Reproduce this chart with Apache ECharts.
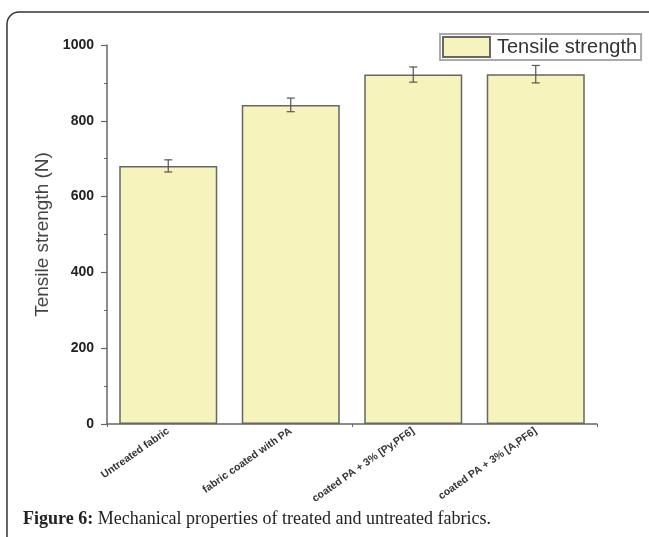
<!DOCTYPE html>
<html>
<head>
<meta charset="utf-8">
<script src="https://cdn.jsdelivr.net/npm/echarts@6/dist/echarts.min.js"></script>
<style>html,body{margin:0;padding:0;background:#fff;}#c{width:649px;height:537px;}</style>
</head>
<body>
<div id="c"></div>
<script>
var categories = ['Untreated fabric', 'fabric coated with PA', 'coated PA + 3% [Py,PF6]', 'coated PA + 3% [A,PF6]'];
var strengthValues = [681, 842, 922, 923];
var strengthErrors = [16, 18, 20, 23];
var yTicks = [0, 200, 400, 600, 800, 1000];
var seriesName = 'Tensile strength';
var yTitle = 'Tensile strength (N)';
var captionBold = 'Figure 6:';
var captionText = ' Mechanical properties of treated and untreated fabrics.';

var chart = echarts.init(document.getElementById('c'), null, {renderer: 'canvas'});
var errData = categories.map(function (c, i) {
  return [i, strengthValues[i] - strengthErrors[i], strengthValues[i] + strengthErrors[i]];
});
var FONT = 'Liberation Sans, Arial, sans-serif';
var option = {
  backgroundColor: '#fff',
  animation: false,
  grid: {left: 107, right: 52, top: 45, bottom: 113},
  legend: {
    data: [seriesName],
    left: 440, top: 34,
    orient: 'horizontal',
    itemWidth: 47, itemHeight: 20,
    borderColor: '#aaa', borderWidth: 2,
    padding: [2, 4, 2, 2],
    icon: 'rect',
    textStyle: {fontSize: 20, color: '#333', fontFamily: FONT, padding: [0, 0, 0, 2]}
  },
  xAxis: [{
    type: 'category',
    data: categories,
    axisLine: {lineStyle: {color: '#666', width: 1.5}},
    axisTick: {alignWithLabel: true, length: 4, lineStyle: {color: '#666'}},
    axisLabel: {rotate: 35, fontSize: 10.5, fontWeight: 'bold', color: '#333', margin: 6, interval: 0,
      fontFamily: FONT},
    splitLine: {show: false}
  }, {
    type: 'category',
    data: categories,
    position: 'bottom',
    axisLine: {show: false},
    axisTick: {show: true, length: 3, lineStyle: {color: '#666'}},
    axisLabel: {show: false},
    splitLine: {show: false}
  }],
  yAxis: {
    type: 'value',
    min: 0, max: 1000, interval: 200,
    name: yTitle,
    nameLocation: 'middle',
    nameGap: 47,
    nameTextStyle: {fontSize: 19, color: '#444', fontFamily: FONT},
    axisLine: {show: true, lineStyle: {color: '#666', width: 1.5}},
    axisTick: {show: true, length: 6, lineStyle: {color: '#666', width: 1.2}},
    minorTick: {show: true, splitNumber: 2, length: 3, lineStyle: {color: '#666'}},
    axisLabel: {fontSize: 14, fontWeight: 'bold', color: '#222', margin: 13,
      fontFamily: FONT,
      formatter: function (v) { return yTicks.indexOf(v) >= 0 ? String(v) : ''; }},
    splitLine: {show: false}
  },
  series: [{
    name: seriesName,
    type: 'bar',
    data: strengthValues,
    barCategoryGap: '20%',
    itemStyle: {color: '#F6F3BD', borderColor: '#666', borderWidth: 1.5}
  }, {
    type: 'custom',
    name: 'err',
    data: errData,
    z: 5,
    renderItem: function (params, api) {
      var x = api.value(0);
      var lo = api.coord([x, api.value(1)]);
      var hi = api.coord([x, api.value(2)]);
      var hw = 4;
      var st = {stroke: '#555', lineWidth: 1.2, fill: null};
      return {type: 'group', children: [
        {type: 'line', shape: {x1: hi[0], y1: hi[1], x2: lo[0], y2: lo[1]}, style: st},
        {type: 'line', shape: {x1: hi[0] - hw, y1: hi[1], x2: hi[0] + hw, y2: hi[1]}, style: st},
        {type: 'line', shape: {x1: lo[0] - hw, y1: lo[1], x2: lo[0] + hw, y2: lo[1]}, style: st}
      ]};
    }
  }],
  graphic: [{
    type: 'rect', z: -1, silent: true,
    shape: {x: 7, y: 12, width: 800, height: 800, r: 12},
    style: {fill: 'none', stroke: '#333', lineWidth: 1.5}
  }, {
    type: 'text', left: 23, top: 510,
    style: {
      text: '{b|' + captionBold + '}' + captionText,
      fontSize: 18, fontFamily: 'Liberation Serif, Times New Roman, serif', fill: '#222',
      rich: {b: {fontWeight: 'bold', fontSize: 18, fontFamily: 'Liberation Serif, Times New Roman, serif', color: '#222'}}
    }
  }]
};
chart.setOption(option);
</script>
</body>
</html>
